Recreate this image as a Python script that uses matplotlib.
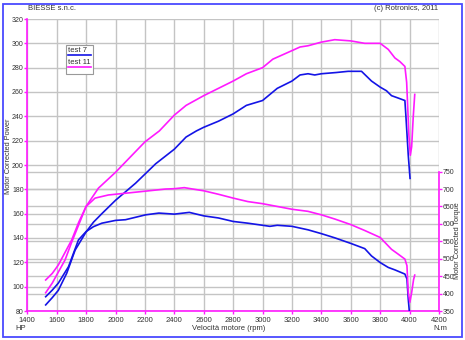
#!/usr/bin/env python3
"""Dyno chart: corrected power and torque vs engine speed, two test runs."""

import matplotlib
matplotlib.use('Agg')
import matplotlib.pyplot as plt
from matplotlib.patches import Rectangle
from matplotlib.lines import Line2D
from matplotlib.transforms import blended_transform_factory

plt.rcParams['font.family'] = ['Liberation Sans', 'DejaVu Sans']

BLUE = '#1414e6'
MAGENTA = '#ff1aff'
GRID = '#c4c4c4'
TEXT = '#333333'
FRAME = '#4a4aff'

# test 7 power (HP)
rpm_p7 = [1525, 1570, 1611, 1668, 1725, 1800, 1850, 1907, 2000, 2136, 2273,
          2400, 2480, 2550, 2600, 2700, 2800, 2890, 3000, 3070, 3100, 3200,
          3255, 3309, 3355, 3400, 3500, 3582, 3673, 3741, 3800, 3843, 3877,
          3923, 3968, 3975, 3991, 4003]
hp_p7 = [85, 91, 97, 111, 130, 145, 153, 160, 171, 185, 201,
         213, 223, 228, 231, 236, 242, 249, 253, 260, 263, 269,
         274, 275, 274, 275, 276, 277, 277, 269, 264, 261, 257,
         255, 253, 240, 208, 189]

# test 11 power (HP)
rpm_p11 = [1525, 1570, 1611, 1657, 1700, 1750, 1800, 1884, 2000, 2080, 2200,
           2298, 2400, 2480, 2600, 2700, 2800, 2890, 3000, 3070, 3200, 3255,
           3309, 3400, 3491, 3600, 3695, 3800, 3855, 3900, 3934, 3968, 3980,
           3986, 3995, 4005, 4014, 4025, 4035]
hp_p11 = [95, 103, 112, 122, 136, 151, 166, 181, 194, 204, 219,
          228, 241, 249, 257, 263, 269, 275, 280, 287, 294, 297,
          298, 301, 303, 302, 300, 300, 295, 288, 285, 281, 268,
          251, 225, 208, 215, 240, 258]

# test 7 torque (N.m)
rpm_t7 = [1525, 1570, 1611, 1680, 1748, 1800, 1850, 1907, 2000, 2068, 2205,
          2295, 2400, 2502, 2600, 2700, 2800, 2900, 3000, 3050, 3100, 3200,
          3309, 3400, 3491, 3600, 3695, 3741, 3800, 3855, 3900, 3968, 3982,
          3991, 3998]
nm_t7 = [391, 410, 430, 477, 554, 578, 592, 602, 610, 612, 626,
         631, 628, 633, 623, 617, 607, 602, 596, 593, 596, 593,
         583, 572, 560, 544, 529, 508, 489, 475, 468, 456, 442,
         384, 350]

# test 11 torque (N.m)
rpm_t11 = [1525, 1570, 1611, 1702, 1750, 1800, 1861, 1952, 2068, 2205, 2340,
           2400, 2468, 2525, 2600, 2700, 2800, 2900, 3000, 3100, 3200, 3309,
           3400, 3491, 3600, 3695, 3800, 3877, 3923, 3968, 3982, 3991, 4002,
           4014, 4027, 4035]
nm_t11 = [439, 458, 482, 554, 605, 650, 674, 683, 688, 694, 700,
          701, 704, 700, 695, 685, 674, 664, 658, 650, 642, 636,
          626, 614, 598, 581, 561, 527, 513, 499, 480, 403, 375,
          403, 440, 453]

rpm_ticks = list(range(1400, 4201, 200))
hp_ticks = list(range(80, 321, 20))
nm_ticks = list(range(350, 751, 50))


def main():
    fig = plt.figure(figsize=(4.65, 3.4), dpi=100)
    fig.patch.set_facecolor('white')
    fig.patches.append(Rectangle((3 / 465, 3 / 340), 459 / 465, 333 / 340,
                                 transform=fig.transFigure, fill=False,
                                 edgecolor=FRAME, linewidth=1.3))

    ax = fig.add_axes([27.3 / 465, 29 / 340, 411.7 / 465, 292 / 340])
    ax2 = ax.twinx()

    ax.set_xlim(1400, 4200)
    ax.set_ylim(80, 320)
    ax2.set_ylim(350, 1188)

    # grid: rpm verticals, HP horizontals, plus torque horizontals
    ax.set_axisbelow(True)
    ax.set_xticks(rpm_ticks)
    ax.set_yticks(hp_ticks)
    ax.grid(True, color=GRID, linewidth=1.0)
    tq_trans = blended_transform_factory(ax.transAxes, ax2.transData)
    ax.hlines(nm_ticks, 0, 1, transform=tq_trans, color=GRID,
              linewidth=1.0, zorder=0.5)

    ax.plot(rpm_p7, hp_p7, color=BLUE, linewidth=1.2)
    ax.plot(rpm_p11, hp_p11, color=MAGENTA, linewidth=1.2)
    ax2.plot(rpm_t7, nm_t7, color=BLUE, linewidth=1.2)
    ax2.plot(rpm_t11, nm_t11, color=MAGENTA, linewidth=1.2)

    for a in (ax, ax2):
        a.spines['top'].set_visible(False)
    ax.spines['right'].set_visible(False)
    ax.spines['left'].set_color(MAGENTA)
    ax.spines['bottom'].set_color(MAGENTA)
    ax.spines['left'].set_linewidth(1.2)
    ax.spines['bottom'].set_linewidth(1.2)
    ax2.spines['left'].set_visible(False)
    ax2.spines['bottom'].set_visible(False)
    ax2.spines['right'].set_color(MAGENTA)
    ax2.spines['right'].set_linewidth(1.2)
    ax2.spines['right'].set_bounds(350, 750)

    ax.tick_params(axis='x', colors=MAGENTA, labelcolor=TEXT,
                   labelsize=5.5, length=2.5, width=1, pad=1.5)
    ax.tick_params(axis='y', colors=MAGENTA, labelcolor=TEXT,
                   labelsize=5, length=2, width=1, pad=0.5)
    ax2.set_yticks(nm_ticks)
    ax2.tick_params(axis='y', colors=MAGENTA, labelcolor=TEXT,
                    labelsize=5, length=2, width=1, pad=0.5)

    ax.set_ylabel('Motor Corrected Power', fontsize=5.3, color=TEXT)
    ax.yaxis.set_label_coords(-0.038, 0.53)
    ax2.set_ylabel('Motor Corrected Torque', fontsize=5.3, color=TEXT)
    ax2.yaxis.set_label_coords(1.037, 0.24)

    fig.text(229 / 465, 1 - 328 / 340, 'Velocità motore (rpm)', fontsize=5.5,
             color=TEXT, ha='center', va='center')
    fig.text(15 / 465, 1 - 328 / 340, 'HP', fontsize=5.5, color=TEXT,
             ha='left', va='center')
    fig.text(447 / 465, 1 - 328 / 340, 'N.m', fontsize=5.5, color=TEXT,
             ha='right', va='center')
    fig.text(28 / 465, 1 - 9 / 340, 'BIESSE s.n.c.', fontsize=5.5,
             color=TEXT, ha='left', va='center')
    fig.text(438 / 465, 1 - 9 / 340, '(c) Rotronics, 2011', fontsize=5.5,
             color=TEXT, ha='right', va='center')

    # small boxed legend with the line drawn under each label
    fx = lambda px: px / 465
    fy = lambda py: 1 - py / 340
    fig.patches.append(Rectangle((fx(66), fy(74)), fx(27), 29 / 340,
                                 transform=fig.transFigure, facecolor='white',
                                 edgecolor='#999999', linewidth=0.8,
                                 zorder=5))
    for i, (name, col) in enumerate([('test 7', BLUE), ('test 11', MAGENTA)]):
        y = 51 + i * 12
        fig.text(fx(68.5), fy(y), name, fontsize=5.5, color=TEXT,
                 ha='left', va='center', zorder=6)
        fig.lines.append(Line2D([fx(68), fx(91)], [fy(y + 3.5), fy(y + 3.5)],
                                transform=fig.transFigure, color=col,
                                linewidth=1.2, zorder=6))

    fig.savefig('out.png', dpi=100)
    plt.close(fig)


if __name__ == '__main__':
    main()
